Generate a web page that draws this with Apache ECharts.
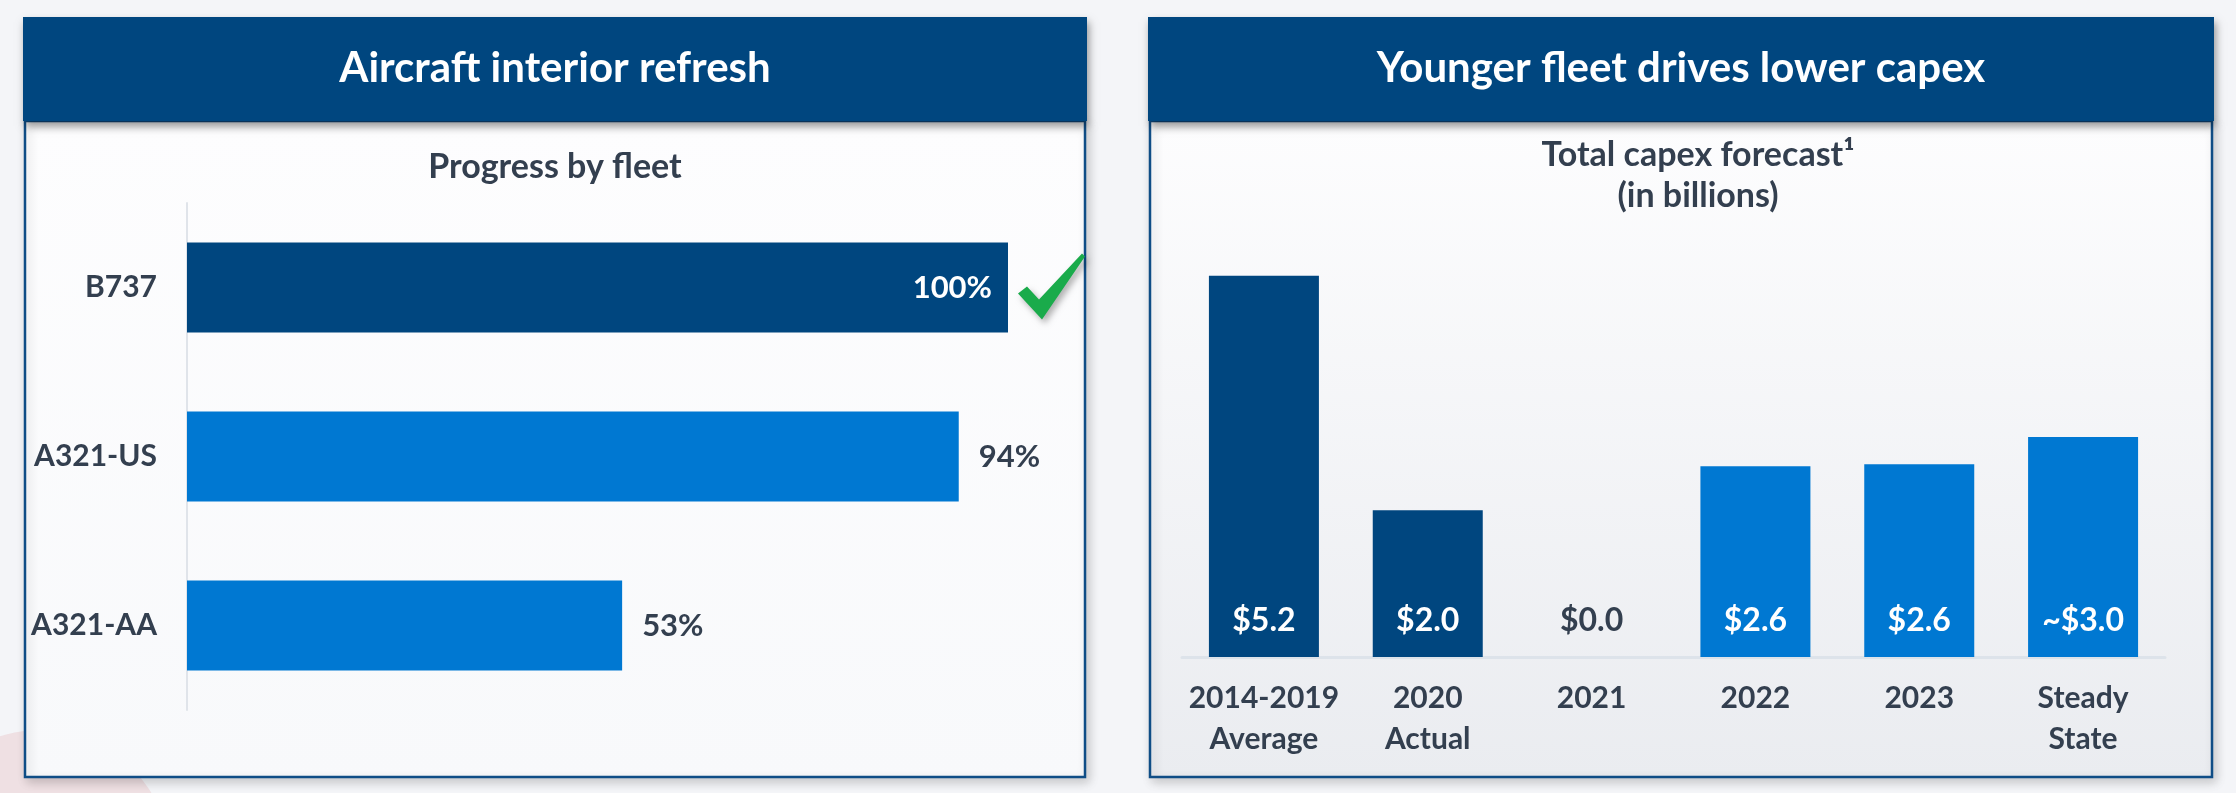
<!DOCTYPE html>
<html>
<head>
<meta charset="utf-8">
<script src="https://cdn.jsdelivr.net/npm/echarts@6/dist/echarts.min.js"></script>
<style>
html,body{margin:0;padding:0;background:#f4f5f8;}
#chart{width:2236px;height:793px;}
</style>
</head>
<body>
<div id="chart"></div>
<script>
// ---- data ----
const fleetCategories = ['B737', 'A321-US', 'A321-AA'];
const fleetProgress = [100, 94, 53];

const capexCategories = ['2014-2019\nAverage', '2020\nActual', '2021', '2022', '2023', 'Steady\nState'];
const capexValues = [5.2, 2.0, 0.0, 2.6, 2.63, 3.0];
const capexLabels = ['$5.2', '$2.0', '$0.0', '$2.6', '$2.6', '~$3.0'];

const panelTitles = ['Aircraft interior refresh', 'Younger fleet drives lower capex'];
const leftSubtitle = 'Progress by fleet';
const rightSubtitle = ['Total capex forecast\u00B9', '(in billions)'];

// ---- style ----
const NAVY = '#00467f';
const BLUE = '#0078d2';
const TEXT = '#333f4f';
const FONT = 'Lato, "Open Sans", sans-serif';

const chart = echarts.init(document.getElementById('chart'));

const fleetData = fleetProgress.map(v => ({
  value: v,
  itemStyle: { color: v >= 100 ? NAVY : BLUE },
  label: v >= 100
    ? { position: 'insideRight', color: '#ffffff', distance: 16 }
    : { position: 'right', color: TEXT, distance: 20 }
}));

const capexData = capexValues.map((v, i) => ({
  value: v,
  itemStyle: { color: i < 2 ? NAVY : BLUE },
  label: { color: v > 0 ? '#ffffff' : TEXT }
}));

function panel(x1, x2, title) {
  return [
    {
      type: 'rect', z: 0,
      shape: { x: x1 + 2, y: 121, width: x2 - x1 - 4, height: 656 },
      style: {
        fill: new echarts.graphic.LinearGradient(0, 0, 0, 1, [
          { offset: 0, color: '#fdfdfe' }, { offset: 1, color: x1 > 1000 ? '#eaecf0' : '#f8f9fb' }
        ]),
        stroke: '#0f4d86', lineWidth: 2.5,
        shadowBlur: 10, shadowOffsetX: 3, shadowOffsetY: 4, shadowColor: 'rgba(0,0,0,0.18)'
      }
    },
    {
      type: 'rect', z: 1,
      shape: { x: x1, y: 17, width: x2 - x1, height: 104 },
      style: {
        fill: NAVY,
        shadowBlur: 8, shadowOffsetX: 2, shadowOffsetY: 5, shadowColor: 'rgba(0,0,0,0.4)'
      }
    },
    {
      type: 'text', z: 2,
      x: (x1 + x2) / 2, y: 68,
      style: {
        text: title, fill: '#ffffff', align: 'center', verticalAlign: 'middle',
        fontFamily: FONT, fontWeight: 'bold', fontSize: 42
      }
    }
  ];
}

const graphics = [
  {
    type: 'circle', z: 0, silent: true,
    shape: { cx: 40, cy: 860, r: 130 },
    style: { fill: 'rgba(200,40,50,0.10)' }
  },
  ...panel(23, 1087, panelTitles[0]),
  ...panel(1148, 2214, panelTitles[1]),
  {
    type: 'text', z: 2, x: 555, y: 167,
    style: { text: leftSubtitle, fill: TEXT, align: 'center', verticalAlign: 'middle',
      fontFamily: FONT, fontWeight: 'bold', fontSize: 34 }
  },
  {
    type: 'text', z: 2, x: 1698, y: 155,
    style: { text: rightSubtitle[0], fill: TEXT, align: 'center', verticalAlign: 'middle',
      fontFamily: FONT, fontWeight: 'bold', fontSize: 34 }
  },
  {
    type: 'text', z: 2, x: 1698, y: 196,
    style: { text: rightSubtitle[1], fill: TEXT, align: 'center', verticalAlign: 'middle',
      fontFamily: FONT, fontWeight: 'bold', fontSize: 34 }
  }
];

const option = {
  animation: false,
  backgroundColor: '#f4f5f8',
  textStyle: { fontFamily: FONT },
  graphic: graphics,
  grid: [
    { left: 187, right: 1228, top: 203, bottom: 83, containLabel: false },
    { left: 1182, right: 71, top: 217, bottom: 136, containLabel: false }
  ],
  xAxis: [
    { gridIndex: 0, type: 'value', min: 0, max: 100, show: false },
    {
      gridIndex: 1, type: 'category', data: capexCategories,
      axisLine: { show: true, lineStyle: { color: '#dde3ea', width: 3 } },
      axisTick: { show: false },
      axisLabel: { color: TEXT, fontFamily: FONT, fontWeight: 'bold', fontSize: 30, lineHeight: 41, margin: 21, interval: 0 }
    }
  ],
  yAxis: [
    {
      gridIndex: 0, type: 'category', data: fleetCategories, inverse: true,
      axisLine: { show: true, lineStyle: { color: '#e0e4ea', width: 2 } },
      axisTick: { show: false },
      axisLabel: { color: TEXT, fontFamily: FONT, fontWeight: 'bold', fontSize: 30, margin: 30 }
    },
    { gridIndex: 1, type: 'value', min: 0, max: 6, show: false }
  ],
  series: [
    {
      type: 'bar', xAxisIndex: 0, yAxisIndex: 0,
      data: fleetData, barWidth: 90, z: 3,
      label: { show: true, fontFamily: FONT, fontWeight: 'bold', fontSize: 31, formatter: p => p.value + '%' }
    },
    {
      type: 'bar', xAxisIndex: 1, yAxisIndex: 1,
      data: capexData, barWidth: 110, z: 3,
      label: {
        show: true, position: 'insideBottom', distance: 20,
        fontFamily: FONT, fontWeight: 'bold', fontSize: 32,
        formatter: p => capexLabels[p.dataIndex]
      }
    }
  ]
};

chart.setOption(option);

// green check mark next to the completed fleet bar
const done = fleetProgress.indexOf(100);
if (done >= 0) {
  const pt = chart.convertToPixel({ xAxisIndex: 0, yAxisIndex: 0 }, [fleetProgress[done], done]);
  graphics.push({
    type: 'polygon', z: 4, x: pt[0] + 10, y: pt[1] - 34,
    shape: { points: [[0, 40], [9, 33], [21, 46], [64, 0], [67, 3], [24, 66]] },
    style: { fill: '#1aab4b', shadowBlur: 6, shadowOffsetX: 3, shadowOffsetY: 4, shadowColor: 'rgba(0,0,0,0.3)' }
  });
  chart.setOption({ graphic: graphics }, { replaceMerge: ['graphic'] });
}
</script>
</body>
</html>
